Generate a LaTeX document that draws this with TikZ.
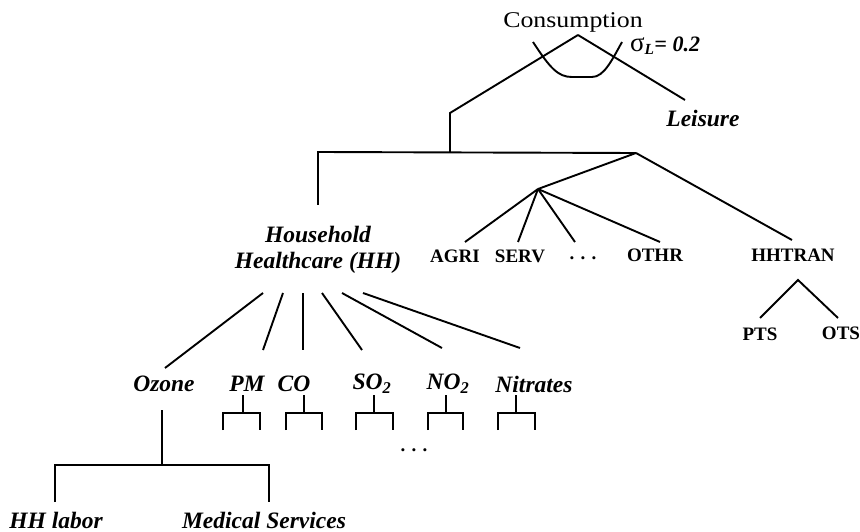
\documentclass[tikz,border=0pt]{standalone}
\usepackage{fontspec}
\setmainfont{Liberation Serif}
\newfontfamily\widefont[FakeStretch=1.15]{Liberation Serif}
\begin{document}
\begin{tikzpicture}[x=1pt,y=-1pt,
  ln/.style={line width=1.9pt},
  lbl/.style={inner sep=0pt, font=\fontsize{19}{21}\selectfont\bfseries},
  ilbl/.style={inner sep=0pt, font=\fontsize{23.5}{26}\selectfont\bfseries\itshape}]
\useasboundingbox[fill=white] (0,0) rectangle (860,532);

% ---- text nodes
\node[inner sep=0pt, font=\widefont\fontsize{22.5}{24}\selectfont] (cons) at (573,22) {Consumption};
\node[inner sep=0pt] (sig) at (665,46) {{\fontsize{27}{28}\selectfont σ}{\bfseries\itshape\fontsize{22}{24}\selectfont\textsubscript{L}= 0.2}};
\node[ilbl] (leis) at (703,118) {Leisure};
\node[ilbl, align=center] (hh) at (318,250) {Household\\Healthcare (HH)};
\node[lbl] (agri) at (455,256) {AGRI};
\node[lbl] (serv) at (520,256) {SERV};
\node[lbl] (sdots) at (583,258) {.\,\,.\,\,.};
\node[lbl] (othr) at (655,255) {OTHR};
\node[lbl] (hhtran) at (793,255) {HHTRAN};
\node[lbl] (pts) at (760,334) {PTS};
\node[lbl] (ots) at (841,333) {OTS};
\node[ilbl] (ozone) at (164,384) {Ozone};
\node[ilbl] (pm) at (247,384) {PM};
\node[ilbl] (co) at (294,384) {CO};
\node[ilbl] (so2) at (372,384) {SO\textsubscript{2}};
\node[ilbl] (no2) at (448,384) {NO\textsubscript{2}};
\node[ilbl] (nitr) at (534,384) {Nitrates};
\node[lbl] (pdots) at (414,450) {.\,\,.\,\,.};
\node[ilbl] (hhlab) at (56,520) {HH labor};
\node[ilbl] (med) at (264,520) {Medical Services};

% ---- junctions and line ends
\coordinate (apex) at (578,35);
\coordinate (cl) at (450,113);
\coordinate (mid) at (450,152);
\coordinate (leisE) at (685,100);
\coordinate (hhtop) at (318,152);
\coordinate (jr) at (636,153);
\coordinate (hhE) at (318,205);
\coordinate (sec) at (538,189);
\coordinate (agriE) at (465,242);
\coordinate (servE) at (518,242);
\coordinate (dotsE) at (575,242);
\coordinate (othrE) at (660,242);
\coordinate (hhtranE) at (792,240);
\coordinate (trn) at (798,280);
\coordinate (ptsE) at (760,318);
\coordinate (otsE) at (838,318);

% ---- upper tree
\draw[ln] (apex) -- (cl) -- (mid);
\draw[ln] (apex) -- (leisE);
\draw[ln] (hhE) -- (hhtop) -- (jr);
\draw[ln] (jr) -- (sec);
\draw[ln] (sec) -- (agriE);
\draw[ln] (sec) -- (servE);
\draw[ln] (sec) -- (dotsE);
\draw[ln] (sec) -- (othrE);
\draw[ln] (jr) -- (hhtranE);
\draw[ln] (ptsE) -- (trn) -- (otsE);

% ---- elasticity arc
\draw[ln] (533,42) .. controls (550,68) and (558,77) .. (572,77) -- (592,77)
  .. controls (604,77) and (612,60) .. (622,42);

% ---- fan from household healthcare
\foreach \n/\sx/\ex/\ey in {1/263/165/368, 2/283/263/350, 3/303/303/350,
  4/322/362/350, 5/342/442/348, 6/363/520/348} {
  \coordinate (fs\n) at (\sx,293);
  \coordinate (fe\n) at (\ex,\ey);
  \draw[ln] (fs\n) -- (fe\n);
}

% ---- small brackets under pollutants
\foreach \s/\a/\b in {243/223/260, 304/286/322, 374/356/393, 446/428/463, 516/498/535} {
  \draw[ln] (\s,395) -- (\s,413);
  \draw[ln] (\a,430) -- (\a,413) -- (\b,413) -- (\b,430);
}

% ---- ozone subtree
\coordinate (oz1) at (162,410);
\coordinate (oz2) at (162,465);
\coordinate (ozl) at (55,465);
\coordinate (ozr) at (269,465);
\coordinate (ozlE) at (55,502);
\coordinate (ozrE) at (269,502);
\draw[ln] (oz1) -- (oz2);
\draw[ln] (ozlE) -- (ozl) -- (ozr) -- (ozrE);
\end{tikzpicture}
\end{document}
